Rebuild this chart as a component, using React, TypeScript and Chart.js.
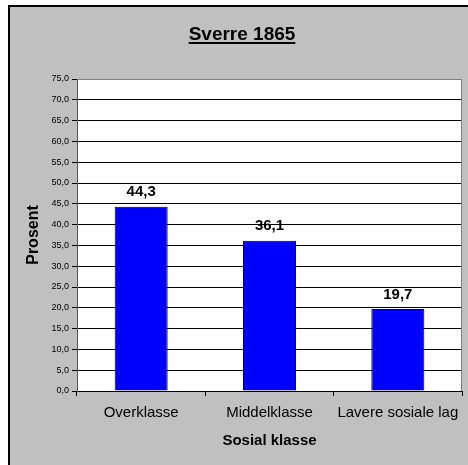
import React, { useEffect, useRef } from "react";
import { Chart, registerables } from "chart.js";

Chart.register(...registerables);

const chartTitle = "Sverre 1865";
const categories = ["Overklasse", "Middelklasse", "Lavere sosiale lag"];
const values = [44.3, 36.1, 19.7];
const yAxisTitle = "Prosent";
const xAxisTitle = "Sosial klasse";
const yMin = 0;
const yMax = 75;
const yStep = 5;

const FONT = "'Liberation Sans', Arial, sans-serif";
const fmt = (v: number) => v.toFixed(1).replace(".", ",");

const framePlugin = {
  id: "frame",
  beforeDraw(chart: any) {
    const { ctx, width, height, chartArea } = chart;
    ctx.save();
    ctx.fillStyle = "#ffffff";
    ctx.fillRect(0, 0, width, height);
    ctx.fillStyle = "#c0c0c0";
    ctx.fillRect(8, 5, width - 8, height - 5);
    ctx.fillStyle = "#000000";
    ctx.fillRect(8, 5, width - 8, 2);
    ctx.fillRect(8, 5, 2, height - 5);
    ctx.fillStyle = "#ffffff";
    ctx.fillRect(chartArea.left, chartArea.top, chartArea.right - chartArea.left, chartArea.bottom - chartArea.top);
    // title
    ctx.font = `bold 19px ${FONT}`;
    ctx.fillStyle = "#000";
    ctx.textAlign = "center";
    ctx.textBaseline = "alphabetic";
    const cx = 242;
    const by = 40;
    ctx.fillText(chartTitle, cx, by);
    const w = ctx.measureText(chartTitle).width;
    ctx.fillRect(cx - w / 2, by + 2, w, 2);
    ctx.restore();
  },
  afterDraw(chart: any) {
    const { ctx, chartArea } = chart;
    ctx.save();
    ctx.strokeStyle = "#808080";
    ctx.lineWidth = 1;
    ctx.beginPath();
    ctx.moveTo(chartArea.left, chartArea.top + 0.5);
    ctx.lineTo(chartArea.right - 0.5, chartArea.top + 0.5);
    ctx.lineTo(chartArea.right - 0.5, chartArea.bottom);
    ctx.stroke();
    ctx.restore();
  },
};

const labelPlugin = {
  id: "barLabels",
  afterDatasetsDraw(chart: any) {
    const { ctx } = chart;
    const meta = chart.getDatasetMeta(0);
    ctx.save();
    ctx.font = `bold 15px ${FONT}`;
    ctx.fillStyle = "#000";
    ctx.textAlign = "center";
    ctx.textBaseline = "alphabetic";
    meta.data.forEach((bar: any, i: number) => {
      ctx.fillText(fmt(values[i]), bar.x, bar.y - 10.5);
    });
    ctx.restore();
  },
};

export default function App() {
  const ref = useRef<HTMLCanvasElement | null>(null);
  useEffect(() => {
    if (!ref.current) return;
    const chart = new Chart(ref.current, {
      type: "bar",
      data: {
        labels: categories,
        datasets: [
          {
            data: values,
            backgroundColor: "#0000ff",
            borderColor: "#000000",
            borderWidth: 1,
            barPercentage: 0.413,
            categoryPercentage: 1,
          },
        ],
      },
      options: {
        responsive: false,
        animation: false,
        layout: { padding: { left: 0, top: 79, right: 6, bottom: 0 } },
        plugins: {
          legend: { display: false },
          tooltip: { enabled: false },
          title: { display: false },
        },
        scales: {
          x: {
            offset: true,
            grid: {
              display: true,
              drawOnChartArea: false,
              offset: true,
              tickLength: 5,
              color: "#000",
              tickColor: "#000",
            },
            border: { display: true, color: "#000", width: 1 },
            ticks: {
              color: "#000",
              font: { family: FONT, size: 15 },
              padding: 8,
              maxRotation: 0,
              autoSkip: false,
            },
            title: {
              display: true,
              text: xAxisTitle,
              color: "#000",
              font: { family: FONT, size: 15, weight: "bold" },
              padding: { top: 0, bottom: 15 },
            },
            afterFit(scale: any) {
              scale.height = 74;
            },
          },
          y: {
            min: yMin,
            max: yMax,
            ticks: {
              stepSize: yStep,
              color: "#000",
              font: { family: FONT, size: 9 },
              padding: 3,
              callback: (v: any) => fmt(Number(v)),
            },
            grid: {
              color: (c: any) => (c.tick && c.tick.value === yMax ? "#808080" : "#000"),
              tickColor: "#000",
              tickLength: 5,
              lineWidth: 1,
            },
            border: { display: true, color: "#555", width: 1 },
            title: {
              display: true,
              text: yAxisTitle,
              color: "#000",
              font: { family: FONT, size: 16, weight: "bold" },
              padding: { top: 24, bottom: 0 },
            },
            afterFit(scale: any) {
              scale.width = 77;
            },
          },
        },
      },
      plugins: [framePlugin, labelPlugin],
    });
    return () => chart.destroy();
  }, []);
  return (
    <div style={{ position: "fixed", left: 0, top: 0, width: 468, height: 465 }}>
      <canvas ref={ref} width={468} height={465} />
    </div>
  );
}
